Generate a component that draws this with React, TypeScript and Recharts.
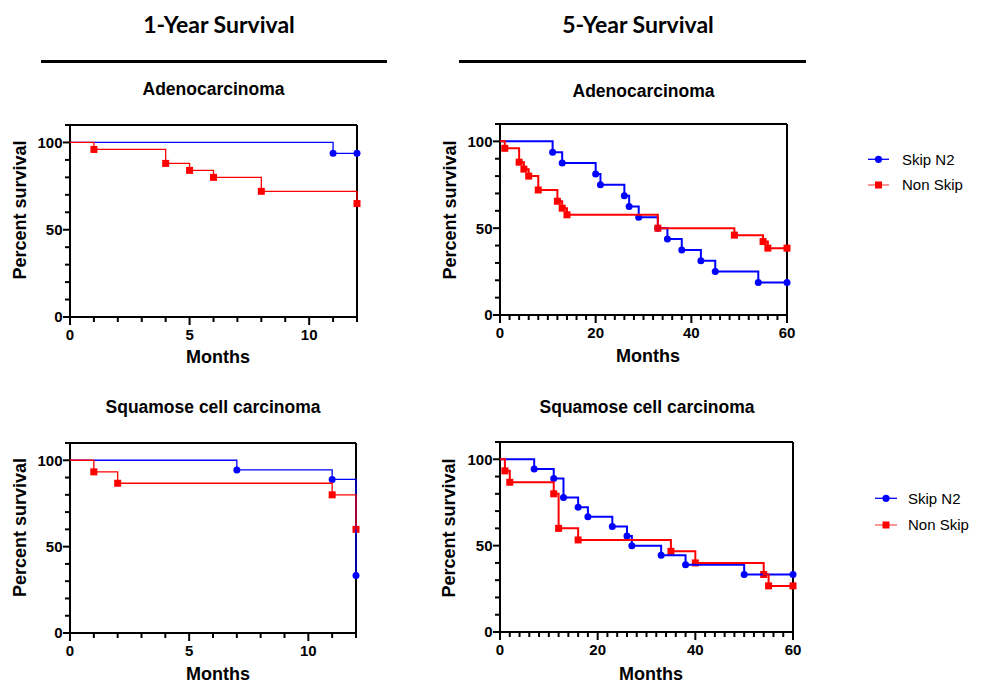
import React from 'react';
import { LineChart, Line, XAxis, YAxis, ReferenceLine } from 'recharts';

const BLUE = '#0000ff';
const RED = '#ff0000';
const FONT = '"Liberation Sans", Arial, Helvetica, sans-serif';
const TITLE_FONT = 'Lato, "Open Sans", sans-serif';

// ---- 1-Year Survival, Adenocarcinoma ----
const adeno1SkipMonths = [0, 11, 12];
const adeno1SkipSurv = [100, 93.75, 93.75];
const adeno1NonMonths = [0, 1, 4, 5, 6, 8, 12];
const adeno1NonSurv = [100, 96, 88, 84, 80, 72, 65];

// ---- 5-Year Survival, Adenocarcinoma ----
const adeno5SkipMonths = [0, 11, 13, 20, 21, 26, 27, 29, 33, 35, 38, 42, 45, 54, 60];
const adeno5SkipSurv = [100, 93.75, 87.5, 81.25, 75, 68.75, 62.5, 56.25, 50, 43.75, 37.5, 31.25, 25, 18.75, 18.75];
const adeno5NonMonths = [0, 1, 4, 5, 6, 8, 12, 13, 14, 33, 49, 55, 56, 60];
const adeno5NonSurv = [100, 96, 88, 84, 80, 72, 65.5, 61.5, 57.7, 50, 46, 42.3, 38.5, 38.5];

// ---- 1-Year Survival, Squamose cell carcinoma ----
const squam1SkipMonths = [0, 7, 11, 12];
const squam1SkipSurv = [100, 94.4, 88.9, 33.3];
const squam1NonMonths = [0, 1, 2, 11, 12];
const squam1NonSurv = [100, 93.3, 86.7, 80, 60];

// ---- 5-Year Survival, Squamose cell carcinoma ----
const squam5SkipMonths = [0, 7, 11, 13, 16, 18, 23, 26, 27, 33, 38, 50, 60];
const squam5SkipSurv = [100, 94.4, 88.9, 77.8, 72.2, 66.7, 61.1, 55.6, 50, 44.4, 38.9, 33.3, 33.3];
const squam5NonMonths = [0, 1, 2, 11, 12, 16, 35, 40, 54, 55, 60];
const squam5NonSurv = [100, 93.3, 86.7, 80, 60, 53.3, 46.7, 40, 33.3, 26.7, 26.7];

// ---- ticks ----
const yTicks = [0, 10, 20, 30, 40, 50, 60, 70, 80, 90, 100, 110];
const yMajor = [0, 50, 100];
const x1Ticks = [0, 1, 2, 3, 4, 5, 6, 7, 8, 9, 10, 11, 12];
const x1Major = [0, 5, 10];
const x5Ticks = [0, 2, 4, 6, 8, 10, 12, 14, 16, 18, 20, 22, 24, 26, 28, 30, 32, 34, 36, 38, 40, 42, 44, 46, 48, 50, 52, 54, 56, 58, 60];
const x5Major = [0, 20, 40, 60];

const zip = (xs: number[], ys: number[]) => xs.map((x, i) => ({ x, y: ys[i] }));

const TICK_FS = 15;

const leftTick = (ax: number) => (props: any) => {
  const { y, payload } = props;
  const v = payload.value;
  const major = yMajor.includes(v);
  return (
    <g key={`lt${v}`}>
      <line x1={ax - (major ? 7 : 5)} x2={ax} y1={y} y2={y} stroke="#000" strokeWidth={2} />
      {major && (
        <text x={ax - 7.5} y={y} dy="0.36em" textAnchor="end" fontFamily={FONT} fontWeight={700} fontSize={TICK_FS} fill="#000">
          {v}
        </text>
      )}
    </g>
  );
};

const rightTick = (ax: number) => (props: any) => {
  const { y, payload } = props;
  const v = payload.value;
  const major = yMajor.includes(v);
  return (
    <g key={`rt${v}`}>
      <line x1={ax} x2={ax + (major ? 7 : 5)} y1={y} y2={y} stroke="#000" strokeWidth={2} />
      {major && (
        <text x={ax + 9} y={y} dy="0.36em" textAnchor="start" fontFamily={FONT} fontWeight={700} fontSize={TICK_FS} fill="#000">
          {v}
        </text>
      )}
    </g>
  );
};

const bottomTick = (ay: number, majors: number[]) => (props: any) => {
  const { x, payload } = props;
  const v = payload.value;
  const major = majors.includes(v);
  return (
    <g key={`bt${v}`}>
      <line x1={x} x2={x} y1={ay} y2={ay + (major ? 8 : 5)} stroke="#000" strokeWidth={2} />
      {major && (
        <text x={x} y={ay + 22.5} textAnchor="middle" fontFamily={FONT} fontWeight={700} fontSize={TICK_FS} fill="#000">
          {v}
        </text>
      )}
    </g>
  );
};

const makeDot = (color: string, shape: 'circle' | 'square', size: number) => (props: any) => {
  const { cx, cy, index } = props;
  if (index === 0 || cx == null || cy == null) return <g key={`d${index}`} />;
  if (shape === 'circle') return <circle key={`d${index}`} cx={cx} cy={cy} r={size / 2} fill={color} />;
  return <rect key={`d${index}`} x={cx - size / 2} y={cy - size / 2} width={size} height={size} fill={color} />;
};

type PanelProps = {
  left: number;
  top: number;
  width: number;
  height: number;
  plot: { left: number; right: number; top: number; bottom: number };
  xMax: number;
  xTicks: number[];
  xMajor: number[];
  skip: { x: number; y: number }[];
  non: { x: number; y: number }[];
  lw: number;
};

// plot = desired plot-area edges, in the panel's own pixel coordinates
function Panel({ left, top, width, height, plot, xMax, xTicks, xMajor, skip, non, lw }: PanelProps) {
  const AX = 1; // axis band size
  const margin = {
    left: plot.left - AX,
    right: width - plot.right - AX,
    top: plot.top,
    bottom: height - plot.bottom - AX,
  };
  const axisLine = { stroke: '#000', strokeWidth: 2 };
  return (
    <div style={{ position: 'absolute', left, top, width, height }}>
      <LineChart width={width} height={height} margin={margin}>
        <XAxis
          type="number"
          dataKey="x"
          domain={[0, xMax]}
          ticks={xTicks}
          interval={0}
          height={AX}
          tickLine={false}
          axisLine={axisLine}
          tick={bottomTick(plot.bottom, xMajor)}
        />
        <YAxis
          yAxisId="l"
          type="number"
          domain={[0, 110]}
          ticks={yTicks}
          interval={0}
          width={AX}
          tickLine={false}
          axisLine={axisLine}
          tick={leftTick(plot.left)}
        />
        <YAxis
          yAxisId="r"
          orientation="right"
          type="number"
          domain={[0, 110]}
          ticks={yTicks}
          interval={0}
          width={AX}
          tickLine={false}
          axisLine={axisLine}
          tick={rightTick(plot.right)}
        />
        <ReferenceLine yAxisId="l" y={110} stroke="#000" strokeWidth={2} />
        <Line
          yAxisId="l"
          data={skip}
          dataKey="y"
          type="stepAfter"
          stroke={BLUE}
          strokeWidth={lw}
          dot={makeDot(BLUE, 'circle', 7)}
          activeDot={false}
          isAnimationActive={false}
          {...({ zIndex: 700 } as any)}
        />
        <Line
          yAxisId="l"
          data={non}
          dataKey="y"
          type="stepAfter"
          stroke={RED}
          strokeWidth={lw}
          dot={makeDot(RED, 'square', 7)}
          activeDot={false}
          isAnimationActive={false}
          {...({ zIndex: 710 } as any)}
        />
      </LineChart>
    </div>
  );
}

function LegendBlock({ x0, x1, textX, yBlue, yRed, tBlue, tRed }: any) {
  const cx = (x0 + x1) / 2;
  return (
    <g>
      <line x1={x0} x2={x1} y1={yBlue} y2={yBlue} stroke={BLUE} strokeWidth={1.3} />
      <circle cx={cx} cy={yBlue} r={3.6} fill={BLUE} />
      <text x={textX} y={tBlue} fontFamily={FONT} fontSize={15} fill="#000">Skip N2</text>
      <line x1={x0} x2={x1} y1={yRed} y2={yRed} stroke={RED} strokeOpacity={0.55} strokeWidth={1.5} />
      <rect x={cx - 3.5} y={yRed - 3.5} width={7} height={7} fill={RED} />
      <text x={textX} y={tRed} fontFamily={FONT} fontSize={15} fill="#000">Non Skip</text>
    </g>
  );
}

export default function App() {
  const boldText = { fontFamily: FONT, fontWeight: 700, fill: '#000' } as const;
  return (
    <div style={{ position: 'absolute', left: 0, top: 0, width: 984, height: 683, background: '#fff', overflow: 'hidden' }}>
      <Panel
        left={0}
        top={100}
        width={430}
        height={280}
        plot={{ left: 70, right: 357, top: 25, bottom: 217 }}
        xMax={12}
        xTicks={x1Ticks}
        xMajor={x1Major}
        skip={zip(adeno1SkipMonths, adeno1SkipSurv)}
        non={zip(adeno1NonMonths, adeno1NonSurv)}
        lw={1.3}
      />
      <Panel
        left={430}
        top={100}
        width={400}
        height={280}
        plot={{ left: 70, right: 357, top: 24, bottom: 215 }}
        xMax={60}
        xTicks={x5Ticks}
        xMajor={x5Major}
        skip={zip(adeno5SkipMonths, adeno5SkipSurv)}
        non={zip(adeno5NonMonths, adeno5NonSurv)}
        lw={2}
      />
      <Panel
        left={0}
        top={420}
        width={430}
        height={263}
        plot={{ left: 70, right: 356, top: 23, bottom: 213 }}
        xMax={12}
        xTicks={x1Ticks}
        xMajor={x1Major}
        skip={zip(squam1SkipMonths, squam1SkipSurv)}
        non={zip(squam1NonMonths, squam1NonSurv)}
        lw={1.3}
      />
      <Panel
        left={430}
        top={420}
        width={400}
        height={263}
        plot={{ left: 70, right: 363, top: 22, bottom: 212 }}
        xMax={60}
        xTicks={x5Ticks}
        xMajor={x5Major}
        skip={zip(squam5SkipMonths, squam5SkipSurv)}
        non={zip(squam5NonMonths, squam5NonSurv)}
        lw={2}
      />
      <svg width={984} height={683} style={{ position: 'absolute', left: 0, top: 0, pointerEvents: 'none' }}>
        <text x={219} y={33} textAnchor="middle" fontFamily={TITLE_FONT} fontWeight={700} fontSize={23} fill="#000">1-Year Survival</text>
        <text x={638} y={33} textAnchor="middle" fontFamily={TITLE_FONT} fontWeight={700} fontSize={23} fill="#000">5-Year Survival</text>
        <line x1={41} x2={387} y1={61.5} y2={61.5} stroke="#000" strokeWidth={3} />
        <line x1={459} x2={806} y1={61.5} y2={61.5} stroke="#000" strokeWidth={3} />

        <text x={213.5} y={95} textAnchor="middle" fontSize={17.5} {...boldText}>Adenocarcinoma</text>
        <text x={643.5} y={97} textAnchor="middle" fontSize={17.5} {...boldText}>Adenocarcinoma</text>
        <text x={213} y={413} textAnchor="middle" fontSize={17.5} {...boldText}>Squamose cell carcinoma</text>
        <text x={647} y={413} textAnchor="middle" fontSize={17.5} {...boldText}>Squamose cell carcinoma</text>

        <text x={218} y={363} textAnchor="middle" fontSize={18} {...boldText}>Months</text>
        <text x={648} y={362} textAnchor="middle" fontSize={18} {...boldText}>Months</text>
        <text x={218} y={680} textAnchor="middle" fontSize={18} {...boldText}>Months</text>
        <text x={651} y={680} textAnchor="middle" fontSize={18} {...boldText}>Months</text>

        <text transform="translate(26,210) rotate(-90)" textAnchor="middle" fontSize={18} {...boldText}>Percent survival</text>
        <text transform="translate(456,210) rotate(-90)" textAnchor="middle" fontSize={18} {...boldText}>Percent survival</text>
        <text transform="translate(26,527.5) rotate(-90)" textAnchor="middle" fontSize={18} {...boldText}>Percent survival</text>
        <text transform="translate(455,528) rotate(-90)" textAnchor="middle" fontSize={18} {...boldText}>Percent survival</text>

        <LegendBlock x0={868} x1={889} textX={902} yBlue={159.3} yRed={185} tBlue={165} tRed={189.5} />
        <LegendBlock x0={875} x1={897} textX={908} yBlue={498.3} yRed={525} tBlue={503.5} tRed={529.5} />
      </svg>
    </div>
  );
}
